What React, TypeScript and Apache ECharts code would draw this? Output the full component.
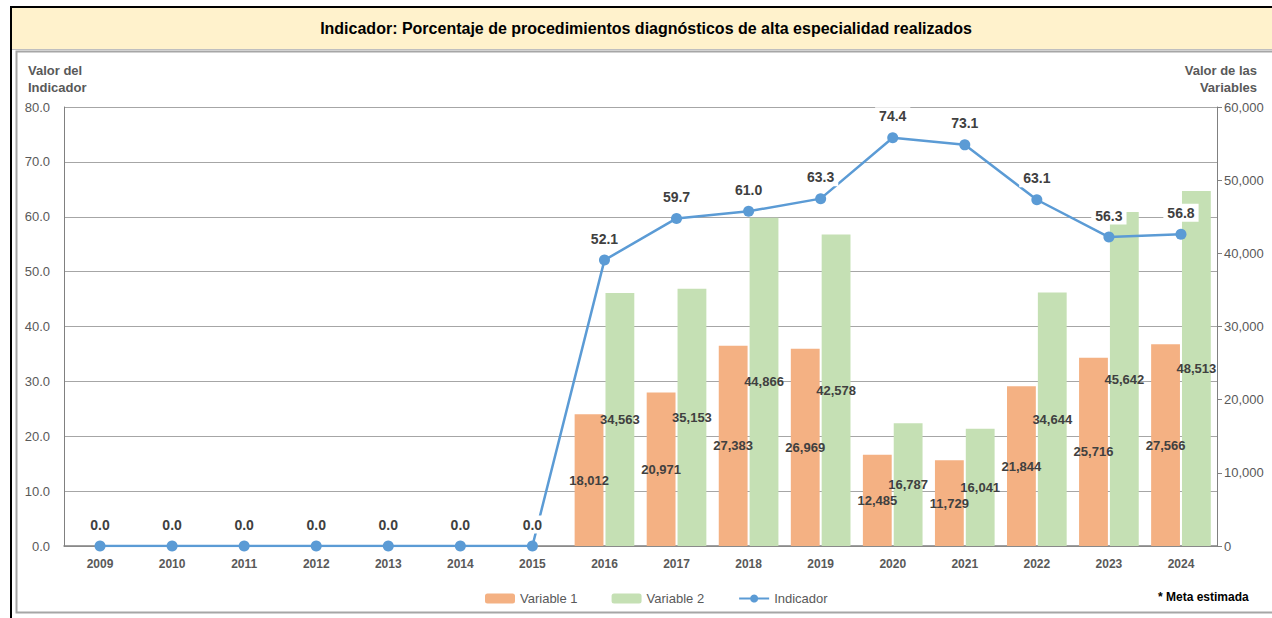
import React, { useEffect, useRef } from "react";
import * as echarts from "echarts";

const years = ["2009","2010","2011","2012","2013","2014","2015","2016","2017","2018","2019","2020","2021","2022","2023","2024"];
const variable1 = [null,null,null,null,null,null,null,18012,20971,27383,26969,12485,11729,21844,25716,27566];
const variable2 = [null,null,null,null,null,null,null,34563,35153,44866,42578,16787,16041,34644,45642,48513];
const indicador = [0,0,0,0,0,0,0,52.1,59.7,61.0,63.3,74.4,73.1,63.1,56.3,56.8];

const FONT = 'Arial, "Liberation Sans", sans-serif';
const GRAY_TXT = "#595959";

export default function App() {
  const ref = useRef<HTMLDivElement>(null);
  useEffect(() => {
    const chart = echarts.init(ref.current!, null, { renderer: "svg" });
    const fmt = (v: number) => v.toLocaleString("en-US");
    chart.setOption({
      animation: false,
      textStyle: { fontFamily: FONT },
      grid: { left: 64, right: 55, top: 107, bottom: 72, containLabel: false },
      legend: {
        left: 480,
        top: 587,
        itemWidth: 30,
        itemHeight: 10,
        itemGap: 34,
        textStyle: { color: GRAY_TXT, fontSize: 13, fontFamily: FONT },
        data: ["Variable 1", "Variable 2", "Indicador"],
      },
      xAxis: {
        type: "category",
        data: years,
        axisTick: { show: false },
        axisLine: { lineStyle: { color: "#808080", width: 1.5 } },
        axisLabel: { color: GRAY_TXT, fontWeight: "bold", fontSize: 12, margin: 12, fontFamily: FONT },
      },
      yAxis: [
        {
          type: "value",
          min: 0,
          max: 80,
          interval: 10,
          axisLine: { show: true, lineStyle: { color: "#808080" } },
          axisTick: { show: false },
          axisLabel: { color: GRAY_TXT, fontSize: 13, formatter: (v: number) => v.toFixed(1), margin: 14, fontFamily: FONT },
          splitLine: { lineStyle: { color: "#A6A6A6", width: 1 } },
        },
        {
          type: "value",
          min: 0,
          max: 60000,
          interval: 10000,
          position: "right",
          axisLine: { show: true, lineStyle: { color: "#808080" } },
          axisTick: { show: true, length: 5, lineStyle: { color: "#808080" } },
          axisLabel: { color: GRAY_TXT, fontSize: 13, formatter: fmt, margin: 7, fontFamily: FONT },
          splitLine: { show: false },
        },
      ],
      series: [
        {
          name: "Variable 1",
          type: "bar",
          yAxisIndex: 1,
          data: variable1,
          barWidth: "40%",
          barGap: "7%",
          itemStyle: { color: "#F4B183" },
          label: {
            show: true,
            position: "inside",
            color: "#404040",
            fontWeight: "bold",
            fontSize: 13,
            fontFamily: FONT,
            formatter: (p: any) => fmt(p.value),
          },
        },
        {
          name: "Variable 2",
          type: "bar",
          yAxisIndex: 1,
          data: variable2,
          barWidth: "40%",
          barGap: "7%",
          itemStyle: { color: "#C5E0B4" },
          label: {
            show: true,
            position: "inside",
            color: "#404040",
            fontWeight: "bold",
            fontSize: 13,
            fontFamily: FONT,
            formatter: (p: any) => fmt(p.value),
          },
        },
        {
          name: "Indicador",
          type: "line",
          yAxisIndex: 0,
          data: indicador,
          symbol: "circle",
          symbolSize: 11,
          z: 5,
          lineStyle: { color: "#5B9BD5", width: 2.5 },
          itemStyle: { color: "#5B9BD5" },
          label: {
            show: true,
            position: "top",
            distance: 7,
            color: "#404040",
            fontWeight: "bold",
            fontSize: 14,
            fontFamily: FONT,
            backgroundColor: "#FFFFFF",
            padding: [2, 4],
            formatter: (p: any) => p.value.toFixed(1),
          },
        },
      ],
      graphic: [
        { type: "rect", shape: { x: 12, y: 8, width: 1260, height: 41 }, style: { fill: "#FFF2CC" }, z: -10 },
        { type: "line", shape: { x1: 10, y1: 7, x2: 1272, y2: 7 }, style: { stroke: "#000", lineWidth: 2 } },
        { type: "line", shape: { x1: 11, y1: 6, x2: 11, y2: 618 }, style: { stroke: "#000", lineWidth: 2 } },
        { type: "line", shape: { x1: 12, y1: 49.5, x2: 1272, y2: 49.5 }, style: { stroke: "#BFBFBF", lineWidth: 1 } },
        { type: "rect", shape: { x: 16.5, y: 51.5, width: 1270, height: 561 }, style: { fill: "none", stroke: "#A6A6A6", lineWidth: 2 }, z: -10 },
        {
          type: "text",
          x: 646,
          y: 28,
          style: { text: "Indicador: Porcentaje de procedimientos diagnósticos de alta especialidad realizados", fill: "#000", font: `bold 16px ${FONT}`, align: "center", verticalAlign: "middle" },
        },
        {
          type: "text",
          x: 28,
          y: 62,
          style: { text: "Valor del\nIndicador", fill: GRAY_TXT, font: `bold 13px ${FONT}`, align: "left", verticalAlign: "top", lineHeight: 17 },
        },
        {
          type: "text",
          x: 1257,
          y: 62,
          style: { text: "Valor de las\nVariables", fill: GRAY_TXT, font: `bold 13px ${FONT}`, align: "right", verticalAlign: "top", lineHeight: 17 },
        },
        {
          type: "text",
          x: 1158,
          y: 597,
          style: { text: "* Meta estimada", fill: "#000", font: `bold 12px ${FONT}`, align: "left", verticalAlign: "middle" },
        },
      ],
    });
    return () => chart.dispose();
  }, []);
  return <div ref={ref} style={{ position: "fixed", left: 0, top: 0, width: 1272, height: 618, background: "#fff" }} />;
}
